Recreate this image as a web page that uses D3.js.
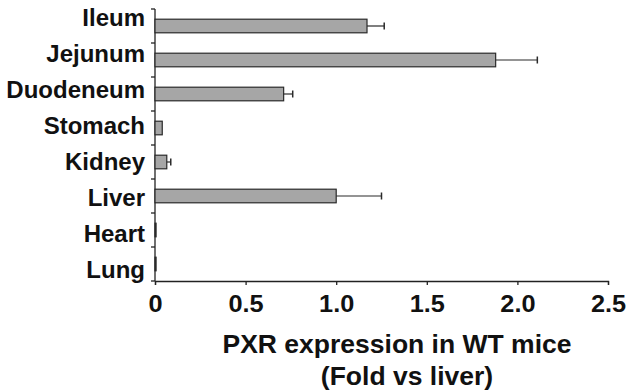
<!DOCTYPE html>
<html>
<head>
<meta charset="utf-8">
<script src="https://cdn.jsdelivr.net/npm/d3@7"></script>
<style>
  body { margin: 0; background: #fff; }
  text { font-family: "Liberation Sans", Arial, sans-serif; font-weight: bold; fill: #111; }
</style>
</head>
<body>
<div id="chart"></div>
<script>
const tissues = ["Ileum", "Jejunum", "Duodeneum", "Stomach", "Kidney", "Liver", "Heart", "Lung"];
const expression = [1.17, 1.88, 0.71, 0.04, 0.065, 1.0, 0.006, 0.006];
const errors = [0.095, 0.23, 0.05, 0, 0.022, 0.25, 0, 0];
const xTicks = [0, 0.5, 1.0, 1.5, 2.0, 2.5];
const titleLines = ["PXR expression in WT mice", "(Fold vs liver)"];

let width = 628;
let height = 390;

let svg = d3.select("#chart")
            .append("svg")
                .attr("width", width)
                .attr("height", height)

let x = d3.scaleLinear().domain([0, 2.5]).range([155, 608])
let y = d3.scaleBand().domain(tissues).range([9, 281]).paddingInner(0.6).paddingOuter(0.3)
// labels sit a bit off the bar centres in the original
let yLabel = d3.scalePoint().domain(tissues).range([19, 271])

// x axis
let xAxis = svg.append("g")
    .attr("transform", "translate(0, 281)")
    .call(d3.axisBottom(x).tickValues(xTicks).tickSize(4).tickFormat(d => d === 0 ? "0" : d3.format(".1f")(d)))
xAxis.select(".domain").attr("stroke", "#222").attr("stroke-width", 1.3)
xAxis.selectAll(".tick line").attr("stroke", "#222").attr("stroke-width", 1.3)
xAxis.selectAll(".tick text")
    .attr("y", 0).attr("dy", 0)
    .attr("transform", "translate(0, 31) scale(1.1, 1)")
    .style("font-size", "23px")
    .style("font-family", "Liberation Sans, Arial, sans-serif")
    .style("font-weight", "bold")
    .attr("fill", "#111")

// y axis: line plus ticks on band boundaries
let step = y.step()
svg.append("line")
    .attr("x1", x(0)).attr("x2", x(0))
    .attr("y1", 9).attr("y2", 281)
    .attr("stroke", "#222").attr("stroke-width", 1.3)
svg.selectAll(".ytick")
    .data(tissues.concat(["end"]))
    .enter()
    .append("line")
        .attr("x1", x(0) - 4).attr("x2", x(0))
        .attr("y1", (d, i) => 9 + i * step)
        .attr("y2", (d, i) => 9 + i * step)
        .attr("stroke", "#222").attr("stroke-width", 1.3)

// bars
svg.selectAll(".bar")
    .data(tissues)
    .enter()
    .append("rect")
        .attr("x", x(0))
        .attr("y", d => y(d))
        .attr("width", (d, i) => x(expression[i]) - x(0))
        .attr("height", y.bandwidth())
        .attr("fill", "#a6a6a6")
        .attr("stroke", "#2a2a2a")
        .attr("stroke-width", 1.2)

// error bars
let eb = svg.selectAll(".err")
    .data(tissues.filter((d, i) => errors[i] > 0))
    .enter()
    .append("g")
eb.append("line")
    .attr("x1", d => x(expression[tissues.indexOf(d)]))
    .attr("x2", d => x(expression[tissues.indexOf(d)] + errors[tissues.indexOf(d)]))
    .attr("y1", d => y(d) + y.bandwidth() / 2)
    .attr("y2", d => y(d) + y.bandwidth() / 2)
    .attr("stroke", "#2a2a2a").attr("stroke-width", 1.2)
eb.append("line")
    .attr("x1", d => x(expression[tissues.indexOf(d)] + errors[tissues.indexOf(d)]))
    .attr("x2", d => x(expression[tissues.indexOf(d)] + errors[tissues.indexOf(d)]))
    .attr("y1", d => y(d) + y.bandwidth() / 2 - 3.5)
    .attr("y2", d => y(d) + y.bandwidth() / 2 + 3.5)
    .attr("stroke", "#2a2a2a").attr("stroke-width", 1.5)

// category labels
svg.selectAll(".label")
    .data(tissues)
    .enter()
    .append("text")
        .attr("x", 145)
        .attr("y", d => yLabel(d) + 7)
        .attr("text-anchor", "end")
        .attr("font-size", "24px")
        .text(d => d)

// axis title
svg.selectAll(".title")
    .data(titleLines)
    .enter()
    .append("text")
        .attr("x", (d, i) => i === 0 ? 397 : 407)
        .attr("y", (d, i) => 353 + i * 32)
        .attr("text-anchor", "middle")
        .attr("font-size", "26.5px")
        .text(d => d)
</script>
</body>
</html>
